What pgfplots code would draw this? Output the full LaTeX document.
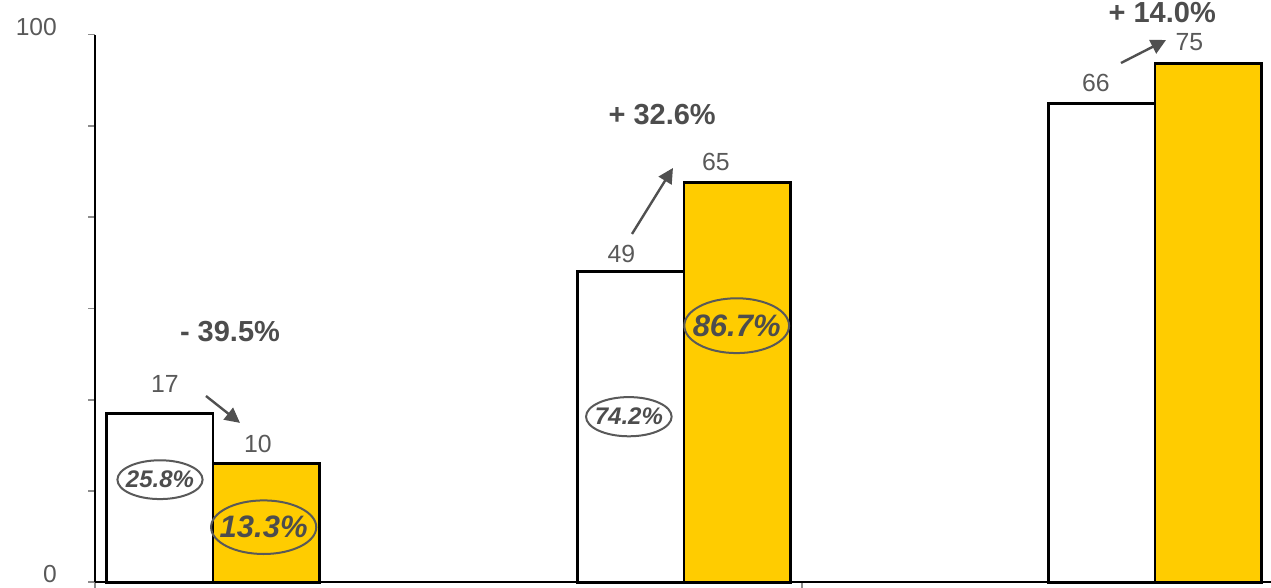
\documentclass[border=0pt]{standalone}
\usepackage{fontspec}
\setmainfont{Liberation Sans}
\usepackage{pgfplots}
\usepackage{pgfplotstable}
\pgfplotsset{compat=1.18}
\usetikzlibrary{arrows.meta}

\definecolor{baryellow}{HTML}{FFCC00}
\definecolor{txtgray}{HTML}{595959}
\definecolor{chggray}{HTML}{4D4D4D}
\definecolor{tickgray}{HTML}{8C8C8C}
\definecolor{arrowgray}{HTML}{505050}

% bar heights on the 0--100 scale of the axis
\pgfplotstableread{
x before after
0 30.86 21.73
1 56.72 72.97
2 87.47 94.78
}\bars

\begin{document}
\begin{tikzpicture}
\begin{axis}[
  anchor=south west, at={(0,0)},
  x=235.5pt, y=2.738pt,
  xmin=-0.25, xmax=2.3, ymin=0, ymax=100,
  axis x line=bottom, axis y line=left,
  axis line style={-, line width=0.8pt, black},
  tick align=outside,
  major tick length=3.5pt,
  tick style={tickgray, line width=0.8pt},
  xtick={-0.25,1.25}, xticklabels={},
  ytick={0,16.6667,33.3333,50,66.6667,83.3333,100},
  yticklabels={0\hspace{-2.5pt},,,,,,100},
  yticklabel style={anchor=east, inner sep=0pt, xshift=-15.5pt, yshift=4pt,
    font=\fontsize{12.3}{14}\selectfont, text=txtgray},
  /pgf/number format/assume math mode=true,
  clip=false,
]
\addplot[ybar, bar width=0.2261, bar shift=-0.11305, draw=black,
  line width=1.3pt, fill=white] table[x=x, y=before] {\bars};
\addplot[ybar, bar width=0.2261, bar shift=0.11305, draw=black,
  line width=1.3pt, fill=baryellow] table[x=x, y=after] {\bars};

% value labels
\begin{scope}[every node/.style={font=\fontsize{12.4}{14}\selectfont, text=txtgray, inner sep=0pt}]
\node at (axis cs:-0.1019,36.21) {17};
\node at (axis cs:0.0955,25.22) {10};
\node at (axis cs:0.8669,59.92) {49};
\node at (axis cs:1.0675,76.81) {65};
\node at (axis cs:1.8743,91.12) {66};
\node at (axis cs:2.0729,98.58) {75};
\end{scope}

% change between the two bars of each group
\begin{scope}[every node/.style={font=\fontsize{14.5}{16}\selectfont\bfseries, text=chggray, inner sep=0pt}]
\node at (axis cs:0.0361,45.70) {- 39.5\%};
\node at (axis cs:0.9537,85.43) {+ 32.6\%};
\node at (axis cs:2.0153,103.96) {+ 14.0\%};
\end{scope}

\begin{scope}[arrowgray, line width=1.2pt, -{Triangle[length=7.5pt, width=7.5pt]}]
\draw (axis cs:-0.0149,34.02) -- (axis cs:0.0573,29.11);
\draw (axis cs:0.8896,63.61) -- (axis cs:0.9766,75.66);
\draw (axis cs:1.9278,94.83) -- (axis cs:2.0234,99.03);
\end{scope}

% shares, circled
\begin{scope}[txtgray, line width=1pt]
\draw (axis cs:-0.1125,18.74) ellipse [x radius=21.3pt, y radius=9.7pt];
\draw (axis cs:0.1076,10.06) ellipse [x radius=26.3pt, y radius=13.4pt];
\draw (axis cs:0.8829,30.24) ellipse [x radius=21.4pt, y radius=9.8pt];
\draw (axis cs:1.1119,46.86) ellipse [x radius=26.2pt, y radius=13.7pt];
\end{scope}
\begin{scope}[every node/.style={text=chggray, inner sep=0pt}]
\node[font=\fontsize{12}{14}\selectfont\bfseries\itshape] at (axis cs:-0.1125,18.74) {25.8\%};
\node[font=\fontsize{15.5}{17}\selectfont\bfseries\itshape] at (axis cs:0.1076,10.06) {13.3\%};
\node[font=\fontsize{12}{14}\selectfont\bfseries\itshape] at (axis cs:0.8829,30.24) {74.2\%};
\node[font=\fontsize{15.5}{17}\selectfont\bfseries\itshape] at (axis cs:1.1119,46.86) {86.7\%};
\end{scope}
\end{axis}
\pgfresetboundingbox
\path (-47.625pt,-2.85pt) rectangle (587.875pt,291.15pt);
\end{tikzpicture}
\end{document}
